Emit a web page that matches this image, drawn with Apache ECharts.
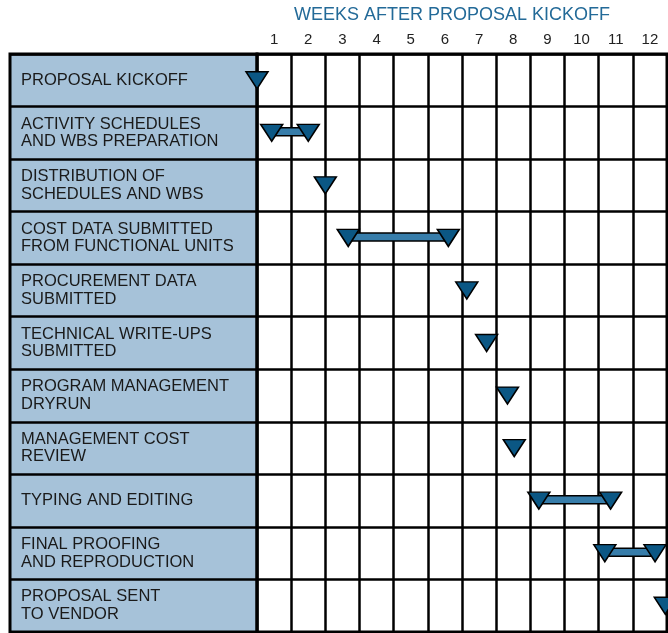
<!DOCTYPE html>
<html>
<head>
<meta charset="utf-8">
<script src="https://cdn.jsdelivr.net/npm/echarts@6/dist/echarts.min.js"></script>
<style>
  html, body { margin: 0; padding: 0; background: #fff; }
  #chart { width: 668px; height: 633px; }
</style>
</head>
<body>
<div id="chart"></div>
<script>
// tasks, top to bottom
var tasks = [
  'PROPOSAL KICKOFF',
  'ACTIVITY SCHEDULES\nAND WBS PREPARATION',
  'DISTRIBUTION OF\nSCHEDULES AND WBS',
  'COST DATA SUBMITTED\nFROM FUNCTIONAL UNITS',
  'PROCUREMENT DATA\nSUBMITTED',
  'TECHNICAL WRITE-UPS\nSUBMITTED',
  'PROGRAM MANAGEMENT\nDRYRUN',
  'MANAGEMENT COST\nREVIEW',
  'TYPING AND EDITING',
  'FINAL PROOFING\nAND REPRODUCTION',
  'PROPOSAL SENT\nTO VENDOR'
]
var weeks = ['1', '2', '3', '4', '5', '6', '7', '8', '9', '10', '11', '12']
// milestone positions in weeks after kickoff (null = no end milestone)
var startWeek = [0, 0.43, 2.0, 2.67, 6.14, 6.72, 7.33, 7.53, 8.25, 10.18, 11.95]
var endWeek = [null, 1.5, null, 5.6, null, null, null, null, 10.35, 11.65, null]

var triFill = '#0b5784'
var barFill = '#377daa'
var lineCol = '#000'

var points = []
var spans = []
tasks.forEach(function (t, i) {
  points.push([startWeek[i], i])
  if (endWeek[i] !== null) {
    points.push([endWeek[i], i])
    spans.push([startWeek[i], endWeek[i], i])
  }
})

var chart = echarts.init(document.getElementById('chart'))
chart.setOption({
  animation: false,
  title: {
    text: 'WEEKS AFTER PROPOSAL KICKOFF',
    left: 447,
    top: 1,
    textAlign: 'center',
    textStyle: {
      color: '#236a98',
      fontSize: 18,
      fontWeight: 'normal',
      fontFamily: 'Liberation Sans, Arial, sans-serif'
    }
  },
  grid: [
    {
      left: 10, top: 54, width: 247, height: 578,
      show: true, backgroundColor: '#a6c2d9',
      borderColor: lineCol, borderWidth: 3
    },
    {
      left: 257, top: 54, width: 410, height: 578,
      show: true, backgroundColor: '#fff',
      borderColor: lineCol, borderWidth: 3
    }
  ],
  xAxis: [
    { gridIndex: 0, type: 'value', show: false, min: 0, max: 1 },
    {
      gridIndex: 1,
      type: 'category',
      data: weeks,
      position: 'top',
      axisLine: { show: false },
      axisTick: { show: false, interval: 0 },
      axisLabel: {
        interval: 0,
        margin: 7,
        color: '#222',
        fontSize: 15,
        fontFamily: 'Liberation Sans, Arial, sans-serif'
      },
      splitLine: { show: true, interval: 0, lineStyle: { color: lineCol, width: 2.5 } }
    },
    { gridIndex: 1, type: 'value', show: false, min: 0, max: 12 }
  ],
  yAxis: [
    {
      gridIndex: 0,
      type: 'category',
      data: tasks,
      inverse: true,
      axisLine: { show: false },
      axisTick: { show: false, interval: 0 },
      axisLabel: {
        inside: true,
        interval: 0,
        margin: 11,
        align: 'left',
        color: '#1a1a1a',
        fontSize: 16.5,
        lineHeight: 17.7,
        fontFamily: 'Liberation Sans, Arial, sans-serif'
      },
      splitLine: { show: true, interval: 0, lineStyle: { color: lineCol, width: 2.5 } }
    },
    {
      gridIndex: 1,
      type: 'category',
      data: tasks,
      inverse: true,
      axisLine: { show: false },
      axisTick: { show: false, interval: 0 },
      axisLabel: { show: false },
      splitLine: { show: true, interval: 0, lineStyle: { color: lineCol, width: 2.5 } }
    }
  ],
  series: [
    {
      type: 'custom',
      xAxisIndex: 2,
      yAxisIndex: 1,
      clip: false,
      data: spans,
      renderItem: function (params, api) {
        var s = api.coord([api.value(0), api.value(2)])
        var e = api.coord([api.value(1), api.value(2)])
        return {
          type: 'rect',
          shape: { x: s[0], y: s[1] - 5, width: e[0] - s[0], height: 8 },
          style: { fill: barFill, stroke: lineCol, lineWidth: 1.5 }
        }
      },
      z: 3
    },
    {
      type: 'scatter',
      xAxisIndex: 2,
      yAxisIndex: 1,
      clip: false,
      data: points,
      symbol: 'triangle',
      symbolRotate: 180,
      symbolSize: [22, 17],
      itemStyle: { color: triFill, borderColor: lineCol, borderWidth: 1.5, opacity: 1 },
      z: 4
    }
  ]
})
</script>
</body>
</html>
